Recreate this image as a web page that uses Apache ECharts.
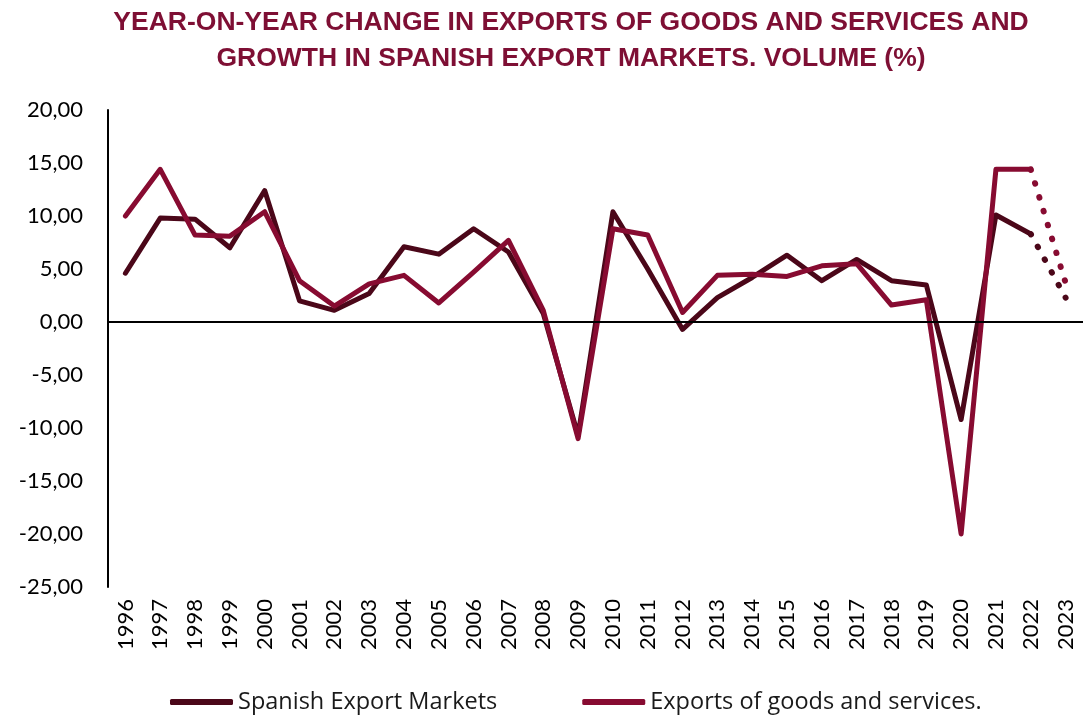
<!DOCTYPE html>
<html>
<head>
<meta charset="utf-8">
<script src="https://cdn.jsdelivr.net/npm/echarts@6/dist/echarts.min.js"></script>
<style>html,body{margin:0;padding:0;background:#fff}#c{width:1083px;height:716px}</style>
</head>
<body>
<div id="c"></div>
<script>
const years = ['1996','1997','1998','1999','2000','2001','2002','2003','2004','2005','2006','2007','2008','2009','2010','2011','2012','2013','2014','2015','2016','2017','2018','2019','2020','2021','2022','2023'];
const markets = [4.6, 9.8, 9.7, 7.0, 12.4, 2.0, 1.1, 2.7, 7.1, 6.4, 8.8, 6.6, 0.8, -10.7, 10.4, 5.0, -0.7, 2.3, 4.2, 6.3, 3.9, 5.9, 3.9, 3.5, -9.2, 10.1, 8.3, null];
const exportsGS = [10.0, 14.4, 8.2, 8.1, 10.4, 3.9, 1.5, 3.6, 4.4, 1.8, 4.7, 7.7, 1.1, -11.0, 8.8, 8.2, 0.9, 4.4, 4.5, 4.3, 5.3, 5.5, 1.6, 2.1, -20.0, 14.4, 14.4, null];
const marketsForecast2023 = 2.3;
const exportsForecast2023 = 3.7;
const titleLines = ['YEAR-ON-YEAR CHANGE IN EXPORTS OF GOODS AND SERVICES AND', 'GROWTH IN SPANISH EXPORT MARKETS. VOLUME (%)'];

const darkColor = '#4b0719';
const redColor = '#870b31';
const labelFont = 'Lato';

function forecastSeries(arr, last) {
  const out = arr.map(() => null);
  const n = arr.length;
  out[n - 2] = arr[n - 2];
  out[n - 1] = last;
  return out;
}

const chart = echarts.init(document.getElementById('c'));
chart.setOption({
  animation: false,
  graphic: titleLines.map((t, i) => ({
    type: 'text', x: 571, y: 23 + i * 36,
    style: { text: t, textAlign: 'center', textVerticalAlign: 'middle', fill: '#7e0f34',
             font: 'bold 26.5px "Liberation Sans", Arial, sans-serif' }
  })),
  legend: {
    data: ['Spanish Export Markets', 'Exports of goods and services.'],
    left: 165,
    top: 685,
    icon: 'roundRect',
    itemWidth: 63,
    itemHeight: 6,
    itemGap: 85,
    textStyle: { fontFamily: 'Open Sans', fontSize: 23.5, color: '#1a1a1a' }
  },
  grid: { left: 108, top: 110, width: 981, height: 477 },
  xAxis: {
    type: 'category',
    data: years,
    boundaryGap: true,
    axisLine: { show: false },
    axisTick: { show: false },
    axisLabel: { rotate: 90, margin: 12, fontFamily: labelFont, fontSize: 22, color: '#000', interval: 0 }
  },
  yAxis: {
    type: 'value',
    min: -25, max: 20, interval: 5,
    axisLine: { show: true, lineStyle: { color: '#000', width: 2 } },
    axisTick: { show: false },
    splitLine: { show: false },
    axisLabel: { margin: 25, fontFamily: labelFont, fontSize: 22, color: '#000', formatter: v => v.toFixed(2).replace('.', ',') }
  },
  series: [
    {
      name: 'Spanish Export Markets', type: 'line', data: markets, symbol: 'none',
      itemStyle: { color: darkColor },
      lineStyle: { color: darkColor, width: 5, join: 'round', cap: 'round' },
      markLine: {
        silent: true, symbol: 'none', label: { show: false },
        lineStyle: { color: '#000', width: 2, type: 'solid' },
        data: [{ yAxis: 0 }]
      }
    },
    {
      name: 'Exports of goods and services.', type: 'line', data: exportsGS, symbol: 'none',
      itemStyle: { color: redColor },
      lineStyle: { color: redColor, width: 5, join: 'round', cap: 'round' }
    },
    {
      name: 'markets-forecast', type: 'line', data: forecastSeries(markets, marketsForecast2023), symbol: 'none',
      lineStyle: { color: darkColor, width: 6, type: [0.5, 14], cap: 'round' }
    },
    {
      name: 'exports-forecast', type: 'line', data: forecastSeries(exportsGS, exportsForecast2023), symbol: 'none',
      lineStyle: { color: redColor, width: 6, type: [0.5, 14], cap: 'round' }
    }
  ]
});
</script>
</body>
</html>
